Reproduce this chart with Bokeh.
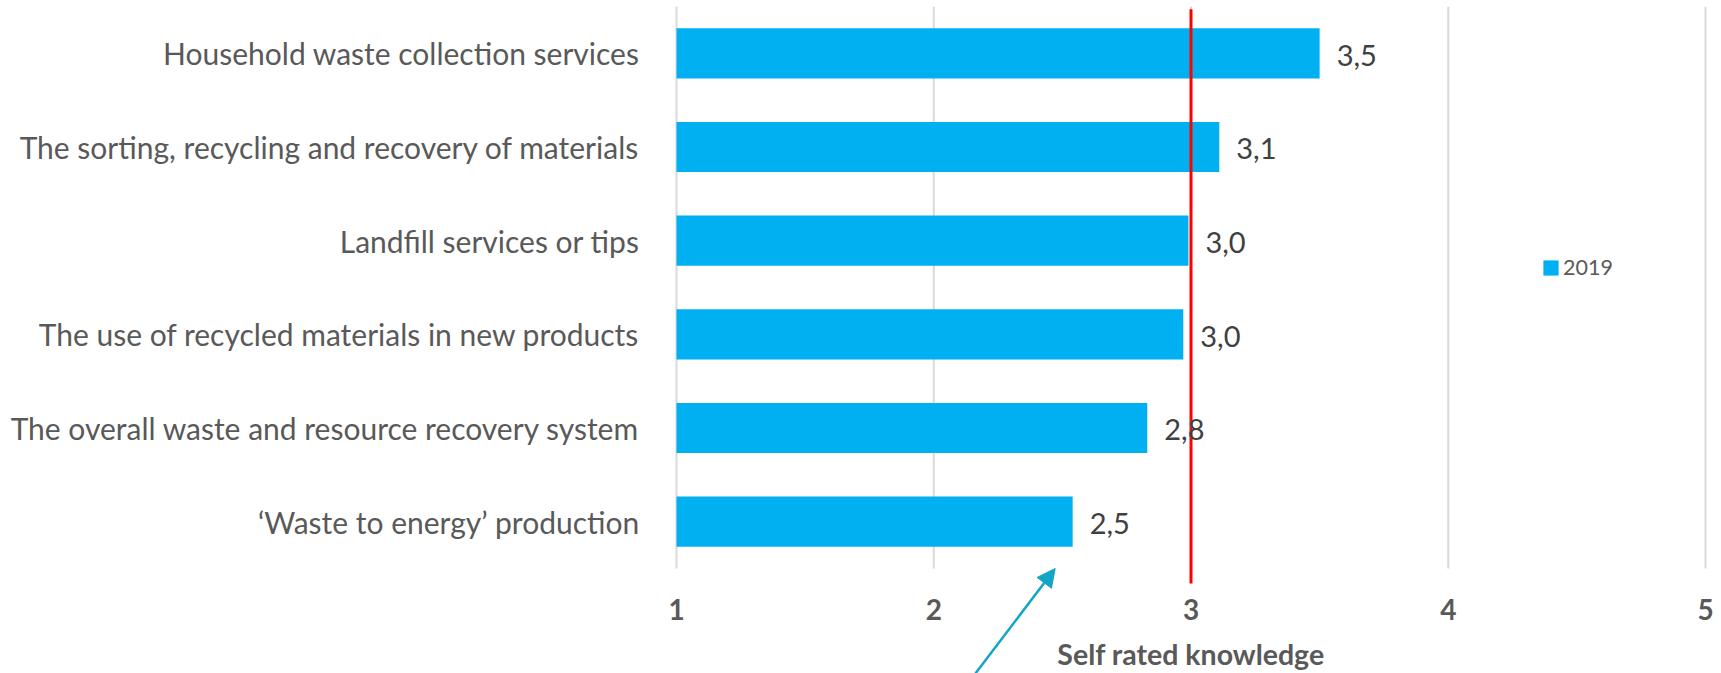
from bokeh.plotting import figure
from bokeh.models import ColumnDataSource, FixedTicker, Range1d, Legend, LegendItem, Arrow, NormalHead
from bokeh.core.properties import value
from bokeh.embed import file_html
from bokeh.resources import INLINE

# ---- data ----
categories = [
    "Household waste collection services",
    "The sorting, recycling and recovery of materials",
    "Landfill services or tips",
    "The use of recycled materials in new products",
    "The overall waste and resource recovery system",
    "\u2018Waste to energy\u2019 production",
]
scores_2019 = [3.50, 3.11, 2.99, 2.97, 2.83, 2.54]
score_labels = ["3,5", "3,1", "3,0", "3,0", "2,8", "2,5"]
x_ticks = [1, 2, 3, 4, 5]
x_tick_labels = ["1", "2", "3", "4", "5"]
reference_level = 3
series_name = "2019"
axis_title = "Self rated knowledge"

FONT = "Lato"
n = len(categories)
ypos = [n - 0.5 - i for i in range(n)]
PX_PER_UNIT = 257.25
X_START = x_ticks[0] - 26 / PX_PER_UNIT   # room so the end tick labels are not clipped
X_END = x_ticks[-1] + 16 / PX_PER_UNIT
Y_BOTTOM = -1.121          # frame runs to the bottom edge of the page
TICK_ROW = -0.438          # row of the value-axis labels (below the bars)
TITLE_ROW = -0.918         # row of the value-axis title

src = ColumnDataSource(dict(y=ypos, v=scores_2019, lab=score_labels, cat=categories,
                            left=[x_ticks[0]] * n))

p = figure(width=1721, height=673, output_backend="svg", toolbar_location=None,
           x_range=Range1d(X_START, X_END), y_range=Range1d(Y_BOTTOM, n),
           x_axis_location=None,
           min_border_left=650, min_border_right=0, min_border_top=6, min_border_bottom=0)
p.outline_line_color = None
p.xgrid.visible = False
p.ygrid.visible = False
p.background_fill_color = "white"
p.border_fill_color = "white"

# grid lines (only over the category area)
p.segment(x0=x_ticks, x1=x_ticks, y0=[0] * len(x_ticks), y1=[n] * len(x_ticks),
          line_color="#D9D9D9", line_width=2)

bars = p.hbar(y="y", left="left", right="v", height=0.535, source=src,
              fill_color="#00B0F0", line_color=None)

# reference line
p.segment(x0=[reference_level], x1=[reference_level], y0=[-0.16], y1=[n - 0.03],
          line_color="#FF0000", line_width=3)

# data labels
p.text(x="v", y="y", text="lab", source=src, x_offset=17, y_offset=2,
       text_baseline="middle", text_align="left", text_font=value(FONT),
       text_font_size="29px", text_color="#404040")

# value axis labels and title
p.text(x=x_ticks, y=[TICK_ROW] * len(x_ticks), text=x_tick_labels,
       text_align="center", text_baseline="middle", text_font=value(FONT),
       text_font_style="bold", text_font_size="28px", text_color="#595959")
p.text(x=[(x_ticks[0] + x_ticks[-1]) / 2], y=[TITLE_ROW], text=[axis_title],
       text_align="center", text_baseline="middle", text_font=value(FONT),
       text_font_style="bold", text_font_size="28.5px", text_color="#595959")

# category axis
ya = p.yaxis[0]
ya.ticker = FixedTicker(ticks=ypos)
ya.major_label_overrides = {y: c for y, c in zip(ypos, categories)}
ya.axis_line_color = None
ya.major_tick_line_color = None
ya.minor_tick_line_color = None
ya.major_label_text_font = FONT
ya.major_label_text_font_size = "30px"
ya.major_label_text_color = "#595959"
ya.major_label_standoff = 5

# legend
legend = Legend(items=[LegendItem(label=series_name, renderers=[bars])],
                location=(891, 393), orientation="vertical",
                glyph_width=19, glyph_height=19, label_standoff=3,
                label_text_font=FONT, label_text_font_size="21.5px",
                label_text_color="#595959", padding=0, margin=0, spacing=0,
                border_line_color=None, background_fill_alpha=0)
p.add_layout(legend)

# pointer arrow towards the lowest bar
p.add_layout(Arrow(x_start=2.162, y_start=Y_BOTTOM, x_end=2.472, y_end=0.0,
                   line_color="#12A5C8", line_width=2.5,
                   end=NormalHead(size=18, fill_color="#12A5C8", line_color="#12A5C8")))

open("out.html", "w").write(file_html(p, INLINE))
